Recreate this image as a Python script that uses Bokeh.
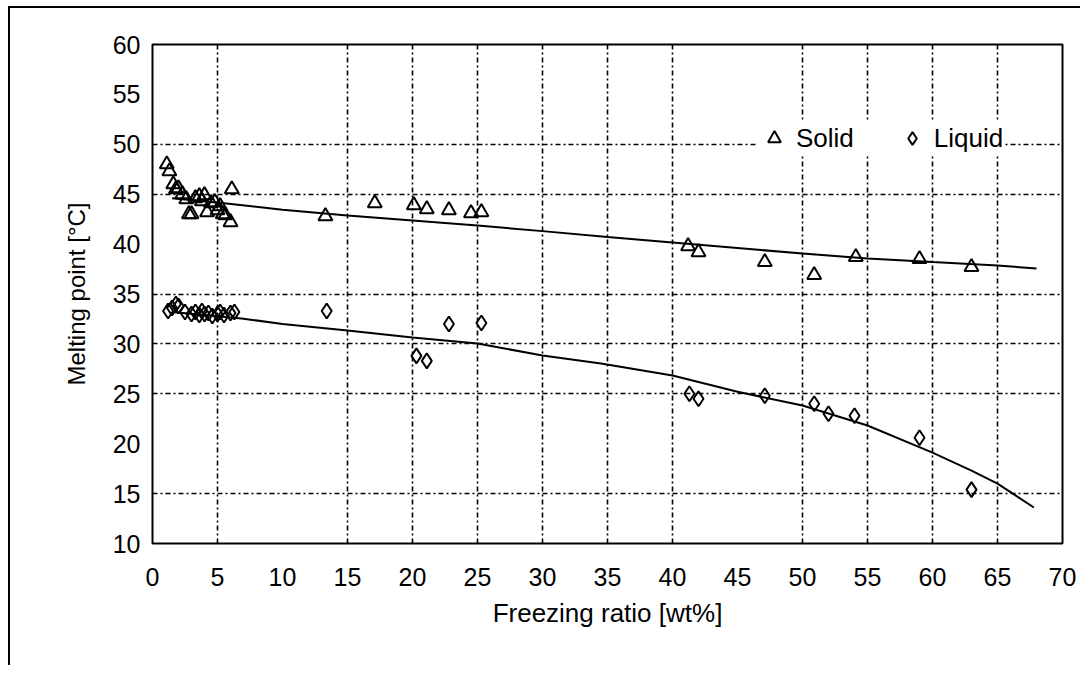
from bokeh.plotting import figure
from bokeh.models import Legend, LegendItem, FixedTicker
from bokeh.embed import file_html
from bokeh.resources import INLINE

# ---- data ----
solid_x = [1.1, 1.3, 1.6, 1.8, 2.0, 2.3, 2.6, 2.8, 3.0, 3.3, 3.6, 3.8, 4.0, 4.2, 4.5, 4.8, 5.0, 5.2,
           5.4, 5.6, 6.0, 6.1, 13.3, 17.1, 20.1, 21.1, 22.8, 24.5, 25.3, 41.2, 42.0, 47.1, 50.9, 54.1,
           59.0, 63.0]
solid_y = [48.0, 47.3, 46.0, 45.5, 45.6, 45.0, 44.5, 43.0, 43.0, 44.6, 44.8, 44.3, 44.9, 43.2, 44.1,
           44.2, 43.4, 43.8, 43.0, 42.9, 42.2, 45.5, 42.8, 44.1, 43.9, 43.5, 43.4, 43.1, 43.2, 39.8,
           39.2, 38.2, 36.9, 38.7, 38.5, 37.7]

liquid_x = [1.2, 1.5, 1.8, 2.0, 2.5, 3.0, 3.3, 3.6, 3.8, 4.0, 4.3, 4.6, 5.0, 5.2, 5.5, 6.0, 6.3,
            13.4, 20.3, 21.1, 22.8, 25.3, 41.3, 42.0, 47.1, 50.9, 52.0, 54.0, 59.0, 63.0]
liquid_y = [33.3, 33.6, 34.0, 33.8, 33.2, 33.0, 33.2, 32.9, 33.3, 33.0, 33.1, 32.8, 33.0, 33.2, 32.9,
            33.1, 33.2, 33.3, 28.8, 28.3, 32.0, 32.1, 25.0, 24.5, 24.8, 24.0, 23.0, 22.8, 20.6, 15.4]

solid_fit_x = [1.5, 5.7, 10, 15, 20, 25, 30, 35, 40, 45, 50, 55, 60, 65, 68]
solid_fit_y = [44.6, 44.07, 43.45, 42.86, 42.36, 41.86, 41.3, 40.7, 40.16, 39.6, 39.06, 38.56,
               38.2, 37.86, 37.55]

liquid_fit_x = [1.5, 6.85, 10, 15, 20, 25, 30, 34.5, 40, 45, 50, 55, 60, 63, 65, 67.8]
liquid_fit_y = [33.2, 32.55, 32.0, 31.34, 30.64, 30.04, 28.84, 28.04, 26.83, 25.2, 23.83, 21.82,
                19.1, 17.3, 16.0, 13.61]

x_ticks = list(range(0, 75, 5))
y_ticks = list(range(10, 65, 5))
x_grid = [5, 15, 20, 25, 30, 35, 40, 50, 55, 60, 65]
y_grid = [15, 25, 30, 35, 45, 50]

FONT = "Liberation Sans"

p = figure(frame_width=910, frame_height=499,
           min_border_left=142, min_border_top=36, min_border_right=18, min_border_bottom=122,
           x_range=(0, 70), y_range=(10, 60),
           output_backend="svg", toolbar_location=None)
p.styles = {"margin-left": "8px", "margin-top": "6px",
            "border-left": "2px solid black", "border-top": "2px solid black"}

p.background_fill_color = "white"
p.border_fill_color = "white"
p.outline_line_color = "black"
p.outline_line_width = 2

# grid
p.xgrid.ticker = FixedTicker(ticks=x_grid)
p.ygrid.ticker = FixedTicker(ticks=y_grid)
for g in (p.xgrid, p.ygrid):
    g.grid_line_color = "black"
    g.grid_line_width = 1.6
    g.grid_line_dash = "5 3 2 3"

# axes
p.xaxis.ticker = FixedTicker(ticks=x_ticks)
p.yaxis.ticker = FixedTicker(ticks=y_ticks)
for ax in (p.xaxis[0], p.yaxis[0]):
    ax.axis_line_color = None
    ax.major_tick_line_color = None
    ax.minor_tick_line_color = None
    ax.major_tick_out = 0
    ax.major_tick_in = 0
    ax.major_label_text_font = FONT
    ax.major_label_text_font_size = "25px"
    ax.major_label_text_color = "black"
    ax.axis_label_text_font = FONT
    ax.axis_label_text_font_style = "normal"
    ax.axis_label_text_color = "black"

p.xaxis.axis_label = "Freezing ratio [wt%]"
p.yaxis.axis_label = "Melting point [°C]"
p.xaxis.axis_label_text_font_size = "26px"
p.yaxis.axis_label_text_font_size = "24px"
p.xaxis.major_label_standoff = 24
p.xaxis.axis_label_standoff = 9
p.yaxis.major_label_standoff = 12
p.yaxis.axis_label_standoff = 20

# fit lines
p.line(solid_fit_x, solid_fit_y, line_color="black", line_width=2)
p.line(liquid_fit_x, liquid_fit_y, line_color="black", line_width=2)

# markers
r_s = p.scatter(solid_x, solid_y, marker="triangle", size=14, fill_color=None,
                line_color="black", line_width=2)
r_l = p.scatter(liquid_x, liquid_y, marker="diamond", size=15, fill_color=None,
                line_color="black", line_width=2)

legend = Legend(items=[LegendItem(label="Solid", renderers=[r_s]),
                       LegendItem(label="Liquid", renderers=[r_l])],
                orientation="horizontal", location=(606, 389),
                padding=18, spacing=42, glyph_width=32, glyph_height=32,
                label_standoff=6, margin=0,
                label_text_font=FONT, label_text_font_size="26px",
                label_text_color="black",
                border_line_color=None, background_fill_color="white",
                background_fill_alpha=1.0)
p.add_layout(legend)

open("out.html", "w").write(file_html(p, INLINE))
